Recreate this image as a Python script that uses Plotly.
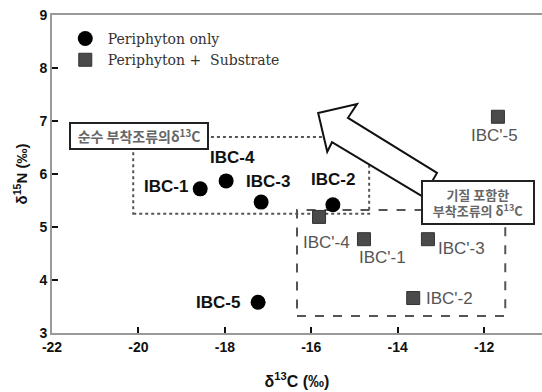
import plotly.graph_objects as go

# Stable isotope values (δ13C, δ15N) of periphyton samples
only_names = ["IBC-1", "IBC-2", "IBC-3", "IBC-4", "IBC-5"]
only_d13c = [-18.57, -15.50, -17.16, -17.97, -17.23]
only_d15n = [5.72, 5.42, 5.47, 5.87, 3.58]

sub_names = ["IBC'-1", "IBC'-2", "IBC'-3", "IBC'-4", "IBC'-5"]
sub_d13c = [-14.78, -13.64, -13.30, -15.82, -11.68]
sub_d15n = [4.77, 3.66, 4.77, 5.19, 7.08]

x_ticks = [-22, -20, -18, -16, -14, -12]
y_ticks = [3, 4, 5, 6, 7, 8, 9]

# label offsets in pixels (xshift, yshift) for each point label
only_offsets = {"IBC-1": (-34, 2), "IBC-2": (0, 25), "IBC-3": (7, 21),
                "IBC-4": (6, 23), "IBC-5": (-40, 0)}
sub_offsets = {"IBC'-1": (19, -18), "IBC'-2": (36, 0), "IBC'-3": (34, -9),
               "IBC'-4": (7, -26), "IBC'-5": (-3, -19)}

fig = go.Figure()
fig.add_trace(go.Scatter(
    x=only_d13c, y=only_d15n, mode="markers", name="Periphyton only",
    marker=dict(symbol="circle", size=15, color="#000000"),
))
fig.add_trace(go.Scatter(
    x=sub_d13c, y=sub_d15n, mode="markers", name="Periphyton +  Substrate",
    marker=dict(symbol="square", size=13, color="#4a4a4a",
                line=dict(color="#333333", width=1)),
))

annotations = []
for n, x, y in zip(only_names, only_d13c, only_d15n):
    dx, dy = only_offsets[n]
    annotations.append(dict(x=x, y=y, text=n, showarrow=False, xshift=dx, yshift=dy,
                            font=dict(family="Liberation Sans", size=17, color="#111111",
                                      weight="bold")))
for n, x, y in zip(sub_names, sub_d13c, sub_d15n):
    dx, dy = sub_offsets[n]
    annotations.append(dict(x=x, y=y, text=n, showarrow=False, xshift=dx, yshift=dy,
                            font=dict(family="Liberation Sans", size=17, color="#555555")))

# group boxes and their captions
annotations.append(dict(
    x=-19.99, y=6.72, xref="x", yref="y", showarrow=False,
    text="순수 부착조류의δ<sup>13</sup><b>C</b>",
    width=134, height=22, bgcolor="white", bordercolor="#222222", borderwidth=2,
    font=dict(family="Noto Sans CJK KR", size=14, color="#666666", weight="bold"),
))
annotations.append(dict(
    x=-12.14, y=5.46, xref="x", yref="y", showarrow=False,
    text="기질 포함한<br>부착조류의 δ<sup>13</sup><b>C</b>",
    width=108, height=39, bgcolor="white", bordercolor="#222222", borderwidth=2,
    font=dict(family="Noto Sans CJK KR", size=13, color="#666666", weight="bold"),
))

shapes = [
    dict(type="rect", x0=-20.12, x1=-14.66, y0=5.25, y1=6.70, xref="x", yref="y",
         line=dict(color="#555555", width=2, dash="dot"), layer="below"),
    dict(type="rect", x0=-16.33, x1=-11.51, y0=3.32, y1=5.32, xref="x", yref="y",
         line=dict(color="#555555", width=2, dash="dash"), layer="below"),
    # block arrow pointing from the substrate group toward the pure periphyton group
    dict(type="path", xref="x", yref="y", layer="above",
         path="M -15.84 7.15 L -14.94 7.32 L -15.15 7.06 L -13.09 6.02 "
              "L -13.41 5.57 L -15.52 6.60 L -15.63 6.42 Z",
         fillcolor="white", line=dict(color="#111111", width=2)),
]

fig.update_layout(
    width=542, height=392,
    margin=dict(l=52, r=0, t=15, b=59),
    plot_bgcolor="white", paper_bgcolor="white",
    showlegend=True,
    legend=dict(x=0.022, y=0.975, xanchor="left", yanchor="top", itemwidth=35,
                bgcolor="rgba(0,0,0,0)", tracegroupgap=0,
                font=dict(family="DejaVu Serif", size=14, color="#333333")),
    annotations=annotations,
    shapes=shapes,
    xaxis=dict(
        range=[-22, -10.66], tickvals=x_ticks, ticktext=[str(v) for v in x_ticks],
        showgrid=False, zeroline=False,
        showline=True, linecolor="#999999", linewidth=2, mirror=True,
        ticks="inside", ticklen=6, tickwidth=2, tickcolor="#111111",
        tickfont=dict(family="Liberation Sans", size=14, color="#111111", weight="bold"),
        title=dict(text="δ<sup>13</sup>C (‰)", standoff=22,
                   font=dict(family="Liberation Sans", size=16, color="#111111",
                             weight="bold")),
    ),
    yaxis=dict(
        range=[3, 9], tickvals=y_ticks, ticktext=[str(v) for v in y_ticks],
        showgrid=False, zeroline=False,
        showline=True, linecolor="#999999", linewidth=2,
        ticks="inside", ticklen=6, tickwidth=2, tickcolor="#111111",
        tickfont=dict(family="Liberation Sans", size=14, color="#111111", weight="bold"),
        title=dict(text="δ<sup>15</sup>N (‰)", standoff=8,
                   font=dict(family="Liberation Sans", size=15, color="#111111",
                             weight="bold")),
    ),
)

fig.write_html("out.html")
